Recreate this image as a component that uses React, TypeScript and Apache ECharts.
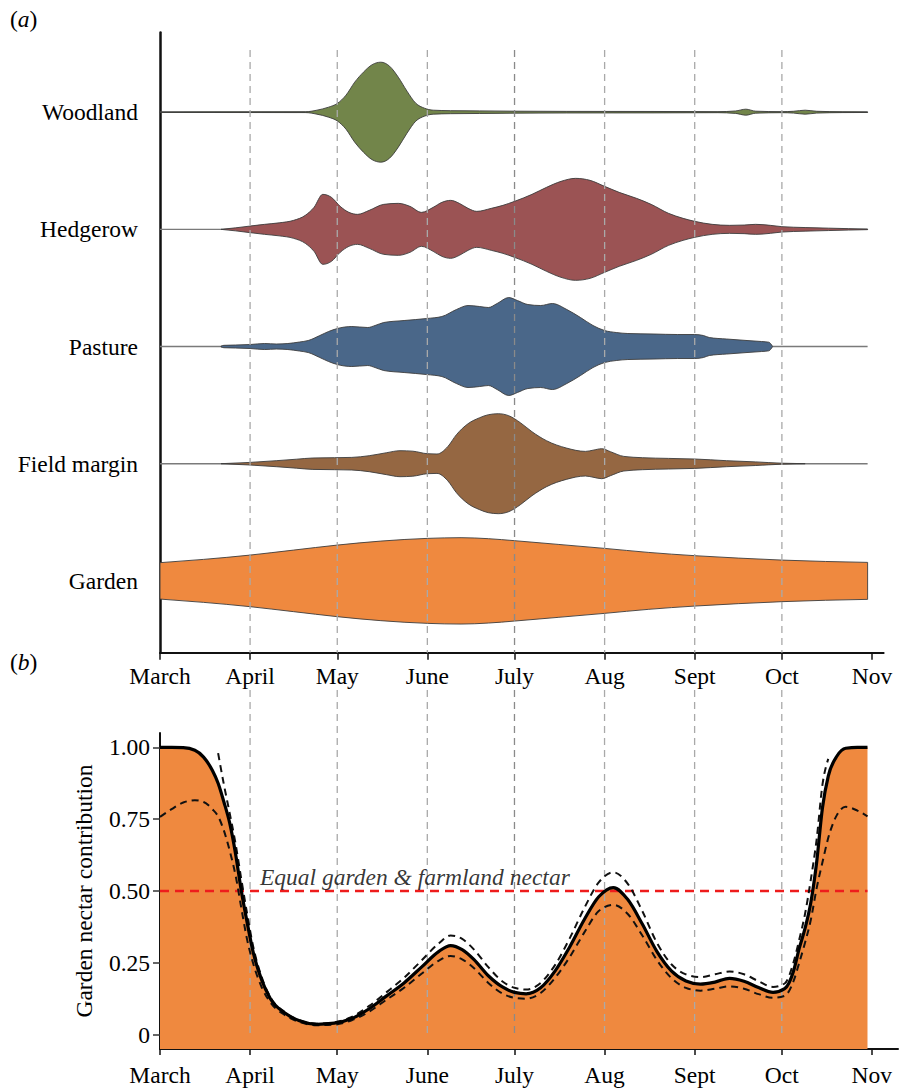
import React, { useEffect, useRef } from "react";
import * as echarts from "echarts";

// ---------- axis data ----------
const months = ["March", "April", "May", "June", "July", "Aug", "Sept", "Oct", "Nov"];
const monthDays = [0, 31, 61, 92, 122, 153, 184, 214, 245]; // days since 1 March
const habitats = ["Garden", "Field margin", "Pasture", "Hedgerow", "Woodland"]; // bottom -> top
const nectarTicks = [0, 0.25, 0.5, 0.75, 1];
const equalLevel = 0.5;

// ---------- (a) violin densities (relative half-widths) ----------
const woodlandDays = [0, 50, 54, 58, 61, 64, 67, 70, 73, 76, 79, 82, 85, 88, 91, 94, 100, 110, 122, 140, 170, 192, 198, 201.6, 205, 214, 218, 222, 226, 235, 243.5];
const woodlandWidth = [0.3, 0.4, 2, 5, 8.7, 17, 30, 40, 47.5, 50, 46, 35, 21, 9, 4, 2, 1.5, 1.3, 1, 0.8, 0.7, 0.5, 1.2, 3, 1, 0.5, 0.9, 2, 0.9, 0.4, 0.3];

const hedgerowDays = [21, 26, 31, 36, 41, 46, 50, 53, 56, 59, 62, 65, 68, 72, 77, 82, 86, 90, 94, 97, 100, 103, 106, 109, 114, 118, 122, 128, 133, 138, 143, 148, 153, 158, 164, 169, 175, 180, 184, 190, 196, 201, 205, 210, 214, 222, 230, 237, 243.5];
const hedgerowWidth = [0, 1.5, 3.3, 5, 6.5, 9, 14, 22, 35, 32, 23, 17, 15, 19, 25, 26, 23, 17, 22, 27, 29, 26, 21, 18, 21, 24, 28, 35, 42, 48, 51, 49, 43, 37, 31, 25, 16, 11, 8, 5, 4, 4.3, 5, 4, 2.7, 1.8, 1.2, 0.7, 0.3];

const pastureDays = [21, 22, 26, 31, 36, 40, 44, 48, 51, 55, 58, 61, 66, 71.5, 74, 77, 84, 91.7, 97, 102, 106, 110, 113, 116, 120, 123, 126.6, 131, 135, 140, 144.7, 149, 153, 157, 161, 170, 178, 184, 187, 189, 195, 202, 207, 209.5, 210.8];
const pastureWidth = [0.4, 1.2, 1.5, 2, 3, 2.5, 3, 4.5, 6, 11, 15, 18, 20, 19, 21, 24, 26, 28, 30, 37, 41, 40, 39, 43, 49, 46, 42, 41, 43, 37, 29, 21, 16, 14, 13, 12.5, 12, 12, 11, 9, 7.5, 6, 5, 4.3, 0];

const marginDays = [21, 31, 40, 47, 52.6, 60, 66, 72, 78, 82.6, 87, 92, 95.3, 99, 102, 106, 110, 113, 116.4, 120, 124, 128, 133, 139.8, 146.4, 149, 152, 155, 159.6, 166, 175, 184, 195, 205, 214, 222];
const marginWidth = [0, 1.3, 3, 4.5, 5.7, 6, 6.3, 8, 11, 13, 12.5, 10, 9.7, 17, 29, 40, 46, 49, 50, 48, 41, 32, 23, 15.7, 12.3, 13.5, 15, 12, 7.3, 6, 5.3, 4.7, 3, 1.8, 0.5, 0];

const gardenDays = [0, 15, 31, 46, 61, 76, 92, 103.6, 113, 122, 137, 153, 168, 184, 199, 214, 229, 243.5];
const gardenWidth = [18.2, 21.5, 25.8, 30.8, 35.8, 39.8, 42.5, 43.2, 42.2, 40.2, 36.5, 32.5, 28.5, 25.2, 22.8, 20.8, 19.4, 18.5];

// ---------- (b) garden nectar contribution ----------
const nectarDays = [0, 4, 8, 12, 15, 18, 20, 22, 24, 26, 28, 30, 32, 35, 38, 43, 48, 54, 60, 66, 72, 78, 84, 90, 96, 100, 104, 108, 113, 118, 122, 126, 131, 136, 141, 146, 151, 156, 161, 166, 171, 176, 181, 186, 191, 196, 201, 206, 211, 215, 218, 220, 222, 224, 226, 228, 230, 233, 236, 240, 243.5];
const nectarMean = [1, 1, 0.999, 0.99, 0.966, 0.92, 0.875, 0.81, 0.736, 0.63, 0.5, 0.39, 0.29, 0.19, 0.125, 0.075, 0.048, 0.036, 0.04, 0.056, 0.09, 0.135, 0.18, 0.235, 0.29, 0.31, 0.296, 0.262, 0.205, 0.165, 0.147, 0.142, 0.163, 0.222, 0.305, 0.4, 0.48, 0.512, 0.47, 0.385, 0.29, 0.222, 0.187, 0.176, 0.183, 0.196, 0.186, 0.164, 0.147, 0.16, 0.22, 0.3, 0.37, 0.46, 0.6, 0.79, 0.9, 0.97, 0.997, 1, 1];
const nectarUpper = [null, null, null, null, null, null, 0.98, 0.87, 0.77, 0.665, 0.54, 0.42, 0.31, 0.2, 0.13, 0.078, 0.05, 0.038, 0.043, 0.062, 0.1, 0.148, 0.198, 0.258, 0.318, 0.345, 0.333, 0.297, 0.235, 0.184, 0.163, 0.157, 0.18, 0.243, 0.335, 0.44, 0.53, 0.565, 0.525, 0.43, 0.32, 0.245, 0.21, 0.2, 0.21, 0.22, 0.21, 0.186, 0.166, 0.178, 0.25, 0.33, 0.42, 0.54, 0.68, 0.87, 0.96, null, null, null, null];
const nectarLower = [0.758, 0.785, 0.808, 0.816, 0.81, 0.785, 0.76, 0.71, 0.64, 0.555, 0.44, 0.33, 0.25, 0.165, 0.112, 0.068, 0.044, 0.033, 0.035, 0.05, 0.08, 0.122, 0.163, 0.212, 0.258, 0.274, 0.262, 0.232, 0.18, 0.142, 0.128, 0.125, 0.145, 0.198, 0.27, 0.355, 0.43, 0.452, 0.42, 0.345, 0.26, 0.197, 0.163, 0.153, 0.16, 0.168, 0.16, 0.141, 0.128, 0.135, 0.185, 0.25, 0.32, 0.4, 0.51, 0.6, 0.685, 0.765, 0.793, 0.78, 0.76];

const FONT = "'Liberation Serif', 'Times New Roman', 'DejaVu Serif', serif";
const FS = 23.5;
const WIDTH_TO_BAND = 1 / 117.2;
const GUIDE = "#a9a9a9";
const A_MIN = -0.613;
const A_MAX = 4.68;
const B_MIN = -0.05;
const B_MAX = 1.05;

const violins = [
  { days: gardenDays, width: gardenWidth, color: "#ef893f", baseline: false },
  { days: marginDays, width: marginWidth, color: "#956742", baseline: true },
  { days: pastureDays, width: pastureWidth, color: "#4a6789", baseline: true },
  { days: hedgerowDays, width: hedgerowWidth, color: "#9b5354", baseline: true },
  { days: woodlandDays, width: woodlandWidth, color: "#72854a", baseline: true },
];

const dataEnd = gardenDays[gardenDays.length - 1];
const guideDays = monthDays.slice(1, -1);

function pairs(xs: number[], ys: (number | null)[]) {
  const out: number[][] = [];
  xs.forEach((x, i) => {
    const y = ys[i];
    if (y !== null && y !== undefined) out.push([x, y]);
  });
  return out;
}

// monotone cubic tangents (pixel space, x ascending)
function monoTangents(pts: number[][]) {
  const n = pts.length;
  const m = new Array(n).fill(0);
  if (n < 2) return m;
  const h: number[] = [];
  const s: number[] = [];
  for (let i = 0; i < n - 1; i++) {
    h[i] = pts[i + 1][0] - pts[i][0];
    s[i] = h[i] ? (pts[i + 1][1] - pts[i][1]) / h[i] : 0;
  }
  for (let i = 1; i < n - 1; i++) {
    const p = (s[i - 1] * h[i] + s[i] * h[i - 1]) / (h[i - 1] + h[i]);
    m[i] = (Math.sign(s[i - 1]) + Math.sign(s[i])) * Math.min(Math.abs(s[i - 1]), Math.abs(s[i]), 0.5 * Math.abs(p)) || 0;
  }
  m[0] = n > 2 ? (3 * s[0] - m[1]) / 2 : s[0];
  m[n - 1] = n > 2 ? (3 * s[n - 2] - m[n - 2]) / 2 : s[n - 2];
  return m;
}

const f = (v: number) => v.toFixed(2);

function forward(pts: number[][], m: number[]) {
  let d = "";
  for (let i = 0; i < pts.length - 1; i++) {
    const [x0, y0] = pts[i];
    const [x1, y1] = pts[i + 1];
    const h = x1 - x0;
    d += ` C${f(x0 + h / 3)},${f(y0 + (m[i] * h) / 3)} ${f(x1 - h / 3)},${f(y1 - (m[i + 1] * h) / 3)} ${f(x1)},${f(y1)}`;
  }
  return d;
}

function backward(pts: number[][], m: number[]) {
  let d = "";
  for (let i = pts.length - 1; i > 0; i--) {
    const [x1, y1] = pts[i];
    const [x0, y0] = pts[i - 1];
    const h = x1 - x0;
    d += ` C${f(x1 - h / 3)},${f(y1 - (m[i] * h) / 3)} ${f(x0 + h / 3)},${f(y0 + (m[i - 1] * h) / 3)} ${f(x0)},${f(y0)}`;
  }
  return d;
}

function curveSeries(ys: (number | null)[], kind: "area" | "dash" | "solid", z: number) {
  return {
    type: "custom",
    xAxisIndex: 1,
    yAxisIndex: 1,
    z,
    silent: true,
    data: [[0, 0]],
    renderItem: (params: any, api: any) => {
      const pts = pairs(nectarDays, ys).map((p) => api.coord(p));
      const m = monoTangents(pts);
      const first = pts[0];
      const last = pts[pts.length - 1];
      let d = `M${f(first[0])},${f(first[1])}` + forward(pts, m);
      let style: any;
      if (kind === "area") {
        const base = api.coord([0, B_MIN])[1];
        d = `M${f(first[0])},${f(base)} L${f(first[0])},${f(first[1])}` + forward(pts, m) + ` L${f(last[0])},${f(base)} Z`;
        style = { fill: "#ef893f", stroke: null };
      } else if (kind === "dash") {
        style = { fill: null, stroke: "#111", lineWidth: 2, lineDash: [7, 5] };
      } else {
        style = { fill: null, stroke: "#000", lineWidth: 3.2 };
      }
      return { type: "path", shape: { pathData: d }, style };
    },
  };
}

export default function App() {
  const ref = useRef<HTMLDivElement>(null);

  useEffect(() => {
    if (!ref.current) return;
    const chart = echarts.init(ref.current, null, { renderer: "svg" });

    const monthLabel = (v: number) => {
      const i = monthDays.indexOf(Math.round(v));
      return i >= 0 ? months[i] : "";
    };

    const option: any = {
      animation: false,
      backgroundColor: "#ffffff",
      textStyle: { fontFamily: FONT },
      grid: [
        { left: 160, top: 32.5, width: 723.6, height: 620.2, containLabel: false },
        { left: 160, top: 733, width: 738, height: 316, containLabel: false },
      ],
      xAxis: [
        {
          type: "value",
          gridIndex: 0,
          min: 0,
          max: 249,
          axisLine: { show: true, onZero: false, lineStyle: { color: "#111", width: 2 } },
          axisTick: { show: true, customValues: monthDays, length: 7, lineStyle: { color: "#111", width: 1.5 } },
          axisLabel: { customValues: monthDays, formatter: monthLabel, color: "#000", fontSize: FS, fontFamily: FONT, margin: 11 },
          splitLine: { show: false },
        },
        {
          type: "value",
          gridIndex: 1,
          min: 0,
          max: 254,
          axisLine: { show: true, onZero: false, lineStyle: { color: "#111", width: 2 } },
          axisTick: { show: true, customValues: monthDays, length: 6, lineStyle: { color: "#111", width: 1.5 } },
          axisLabel: { customValues: monthDays, formatter: monthLabel, color: "#000", fontSize: FS, fontFamily: FONT, margin: 14 },
          splitLine: { show: false },
        },
      ],
      yAxis: [
        {
          type: "value",
          gridIndex: 0,
          min: A_MIN,
          max: A_MAX,
          axisLine: { show: true, onZero: false, lineStyle: { color: "#111", width: 2.5 } },
          axisTick: { show: false },
          axisLabel: {
            customValues: [0, 1, 2, 3, 4],
            formatter: (v: number) => habitats[Math.round(v)] || "",
            color: "#000",
            fontSize: FS,
            fontFamily: FONT,
            margin: 22,
          },
          splitLine: { show: false },
        },
        {
          type: "value",
          gridIndex: 1,
          min: B_MIN,
          max: B_MAX,
          name: "Garden nectar contribution",
          nameLocation: "middle",
          nameRotate: 90,
          nameGap: 64,
          nameTextStyle: { color: "#000", fontSize: FS, fontFamily: FONT },
          axisLine: { show: true, onZero: false, lineStyle: { color: "#111", width: 2 } },
          axisTick: { show: true, customValues: nectarTicks, length: 7, lineStyle: { color: "#333", width: 1.5 } },
          axisLabel: {
            customValues: nectarTicks,
            formatter: (v: number) => (v === 0 ? "0" : v.toFixed(2)),
            color: "#000",
            fontSize: FS,
            fontFamily: FONT,
            margin: 10,
          },
          splitLine: { show: false },
        },
      ],
      graphic: [
        {
          type: "text",
          left: 10,
          top: 7,
          style: {
            text: "{p|(}{i|a}{p|)}",
            rich: {
              p: { fontFamily: FONT, fontSize: FS, fill: "#000" },
              i: { fontFamily: FONT, fontSize: FS, fontStyle: "italic", fill: "#000" },
            },
          },
        },
        {
          type: "text",
          left: 10,
          top: 650,
          style: {
            text: "{p|(}{i|b}{p|)}",
            rich: {
              p: { fontFamily: FONT, fontSize: FS, fill: "#000" },
              i: { fontFamily: FONT, fontSize: FS, fontStyle: "italic", fill: "#000" },
            },
          },
        },
      ],
      series: [
        // ----- (a) violins -----
        {
          type: "custom",
          xAxisIndex: 0,
          yAxisIndex: 0,
          z: 2,
          silent: true,
          data: habitats.map((_, i) => [0, i]),
          renderItem: (params: any, api: any) => {
            const v = violins[params.dataIndex];
            const idx = api.value(1);
            const upper = v.days.map((d, i) => api.coord([d, idx + v.width[i] * WIDTH_TO_BAND]));
            const lower = v.days.map((d, i) => api.coord([d, idx - v.width[i] * WIDTH_TO_BAND]));
            const mu = monoTangents(upper);
            const ml = monoTangents(lower);
            const lEnd = lower[lower.length - 1];
            const pathData =
              `M${f(upper[0][0])},${f(upper[0][1])}` +
              forward(upper, mu) +
              ` L${f(lEnd[0])},${f(lEnd[1])}` +
              backward(lower, ml) +
              " Z";
            const children: any[] = [];
            if (v.baseline) {
              const a = api.coord([0, idx]);
              const b = api.coord([dataEnd, idx]);
              children.push({
                type: "line",
                shape: { x1: a[0], y1: a[1], x2: b[0], y2: b[1] },
                style: { stroke: "#7a7a7a", lineWidth: 1.4 },
              });
            }
            children.push({
              type: "path",
              shape: { pathData },
              style: { fill: v.color, stroke: "#3c3c3c", lineWidth: 0.9 },
            });
            return { type: "group", children };
          },
        },
        // ----- (a) month guides -----
        {
          type: "custom",
          xAxisIndex: 0,
          yAxisIndex: 0,
          z: 5,
          clip: false,
          silent: true,
          data: guideDays.map((d) => [d, 0]),
          renderItem: (params: any, api: any) => {
            const d = api.value(0);
            const a = api.coord([d, 4.53]);
            const b = api.coord([d, A_MIN]);
            return {
              type: "line",
              shape: { x1: a[0], y1: a[1], x2: b[0], y2: b[1] },
              style: { stroke: d === 122 ? "#8a8a8a" : GUIDE, lineWidth: 1.3, lineDash: [7, 5] },
            };
          },
        },
        // ----- (b) garden area -----
        curveSeries(nectarMean, "area", 1),
        // ----- (b) month guides -----
        {
          type: "custom",
          xAxisIndex: 1,
          yAxisIndex: 1,
          z: 3,
          clip: false,
          silent: true,
          data: guideDays.map((d) => [d, 0]),
          renderItem: (params: any, api: any) => {
            const d = api.value(0);
            const a = api.coord([d, 1.2]);
            const b = api.coord([d, 0]);
            return {
              type: "line",
              shape: { x1: a[0], y1: a[1], x2: b[0], y2: b[1] },
              style: { stroke: d === 122 ? "#8a8a8a" : GUIDE, lineWidth: 1.3, lineDash: [7, 5] },
            };
          },
        },
        // ----- (b) equal nectar line -----
        {
          type: "line",
          xAxisIndex: 1,
          yAxisIndex: 1,
          z: 4,
          silent: true,
          data: [
            [0, equalLevel],
            [dataEnd, equalLevel],
          ],
          symbol: "none",
          lineStyle: { color: "#ee1c1c", width: 2.6, type: [9, 6] },
        },
        // ----- (b) CI lines and mean -----
        curveSeries(nectarUpper, "dash", 5),
        curveSeries(nectarLower, "dash", 5),
        curveSeries(nectarMean, "solid", 6),
        // ----- (b) annotation -----
        {
          type: "scatter",
          xAxisIndex: 1,
          yAxisIndex: 1,
          z: 7,
          symbolSize: 0,
          data: [[34.4, equalLevel]],
          label: {
            show: true,
            formatter: "Equal garden & farmland nectar",
            position: [0, -3],
            align: "left",
            verticalAlign: "bottom",
            color: "#000",
            fontSize: FS,
            fontStyle: "italic",
            fontFamily: FONT,
          },
          silent: true,
        },
      ],
    };

    chart.setOption(option);
    return () => chart.dispose();
  }, []);

  return (
    <div
      ref={ref}
      style={{ position: "absolute", left: 0, top: 0, width: 900, height: 1090, background: "#fff" }}
    />
  );
}
